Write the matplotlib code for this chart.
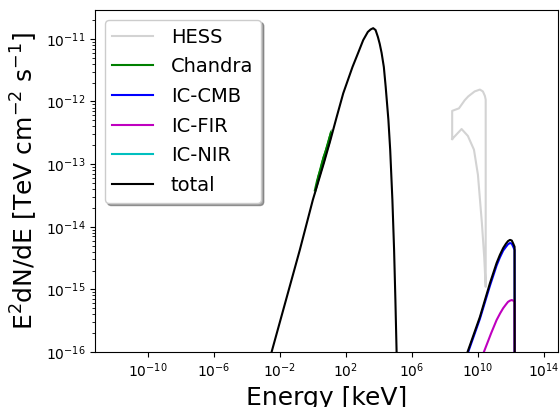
import numpy as np
import matplotlib
matplotlib.use('Agg')
import matplotlib.pyplot as plt
import matplotlib.ticker as ticker

# values, kept as log10(E/keV) and log10(flux)
sync_logE = [-3.0, -2.5, -0.79, 0.0, 0.67, 1.07, 1.44, 1.84, 2.4, 2.75, 3.05, 3.33, 3.5,
             3.655, 3.8, 3.94, 4.05, 4.164, 4.3, 4.412, 4.576, 4.685, 4.818, 4.921, 5.0,
             5.073, 5.12]
sync_logF = [-16.5, -16.0, -14.37, -13.57, -12.98, -12.61, -12.25, -11.87, -11.45, -11.22,
             -11.02, -10.89, -10.85, -10.83, -10.86, -10.97, -11.08, -11.224, -11.45,
             -11.767, -12.294, -12.773, -13.572, -14.371, -15.17, -16.0, -16.6]

ic_logE = [9.0, 9.37, 10.12, 10.73, 11.13, 11.33, 11.53, 11.7, 11.82, 11.94, 12.05, 12.14,
           12.22, 12.24]
tot_ic_logF = [-16.3, -16.0, -15.44, -14.9, -14.58, -14.45, -14.34, -14.27, -14.23, -14.21,
               -14.22, -14.27, -14.32, -20.0]
cmb_logF = [-16.33, -16.03, -15.47, -14.94, -14.62, -14.49, -14.38, -14.32, -14.28, -14.26,
            -14.27, -14.32, -14.37, -20.0]

fir_logE = [10.0, 10.36, 10.8, 11.13, 11.35, 11.53, 11.7, 11.82, 11.94, 12.05, 12.14, 12.22, 12.24]
fir_logF = [-16.35, -16.0, -15.7, -15.49, -15.38, -15.30, -15.24, -15.2, -15.18, -15.17,
            -15.18, -15.2, -20.0]

nir_logE = [10.5, 11.0, 11.5, 12.0, 12.24]
nir_logF = [-17.8, -17.4, -17.1, -17.0, -20.0]

# HESS butterfly (upper and lower bound)
hess_up_logE = [8.44, 8.85, 9.2, 9.41, 9.8, 10.12, 10.3, 10.42, 10.47]
hess_up_logF = [-12.15, -12.11, -11.98, -11.92, -11.84, -11.81, -11.84, -11.91, -11.97]
hess_lo_logE = [8.44, 9.01, 9.39, 9.76, 10.0, 10.24, 10.38, 10.47]
hess_lo_logF = [-12.60, -12.44, -12.55, -12.77, -13.17, -13.94, -14.48, -14.96]

# Chandra spectrum
chan_logE = [0.12, 0.25, 0.4, 0.55, 0.7, 0.85, 1.0, 1.1]
chan_logF = [-13.42, -13.27, -13.13, -12.98, -12.86, -12.72, -12.58, -12.50]
chan_err = [0.06, 0.09, 0.08, 0.1, 0.09, 0.08, 0.1, 0.07]

xticks = [1e-10, 1e-6, 1e-2, 1e2, 1e6, 1e10, 1e14]


def p(a):
    return np.power(10.0, np.array(a))


fig = plt.figure(figsize=(5.6, 4.07), dpi=100)
ax = fig.add_axes([0.1696, 0.1351, 0.8268, 0.8403])

# hess contour: lower left->right, up the right side, upper right->left, down left side
hx = list(hess_lo_logE) + hess_up_logE[::-1] + [hess_lo_logE[0]]
hy = list(hess_lo_logF) + hess_up_logF[::-1] + [hess_lo_logF[0]]
ax.plot(p(hx), p(hy), color='lightgray', lw=1.5, label='HESS')

cE = p(chan_logE)
ax.fill_between(cE, p(np.array(chan_logF) - np.array(chan_err)),
                p(np.array(chan_logF) + np.array(chan_err)), color='g', lw=0)
ax.plot(cE, p(chan_logF), color='g', lw=1.5, label='Chandra')

ax.plot(p(ic_logE), p(cmb_logF), color='b', lw=1.5, label='IC-CMB')
ax.plot(p(fir_logE), p(fir_logF), color='m', lw=1.5, label='IC-FIR')
ax.plot(p(nir_logE), p(nir_logF), color='c', lw=1.5, label='IC-NIR')

tot_logE = sync_logE + ic_logE
tot_logF = sync_logF + tot_ic_logF
ax.plot(p(tot_logE), p(tot_logF), color='k', lw=1.5, label='total')

ax.set_xscale('log')
ax.set_yscale('log')
ax.set_xlim(10**-13.2, 10**14.85)
ax.set_ylim(1e-16, 10**-10.54)
ax.set_xticks(xticks)
ax.xaxis.set_minor_locator(ticker.NullLocator())
ax.tick_params(labelsize=10)

ax.set_xlabel('Energy [keV]', fontsize=18)
ax.set_ylabel(r'E$^2$dN/dE [TeV cm$^{-2}$ s$^{-1}$]', fontsize=18)
ax.legend(loc='upper left', fontsize=14, shadow=True, labelspacing=0.55,
          handlelength=2.1, handletextpad=0.9)

fig.savefig('out.png', dpi=100)
